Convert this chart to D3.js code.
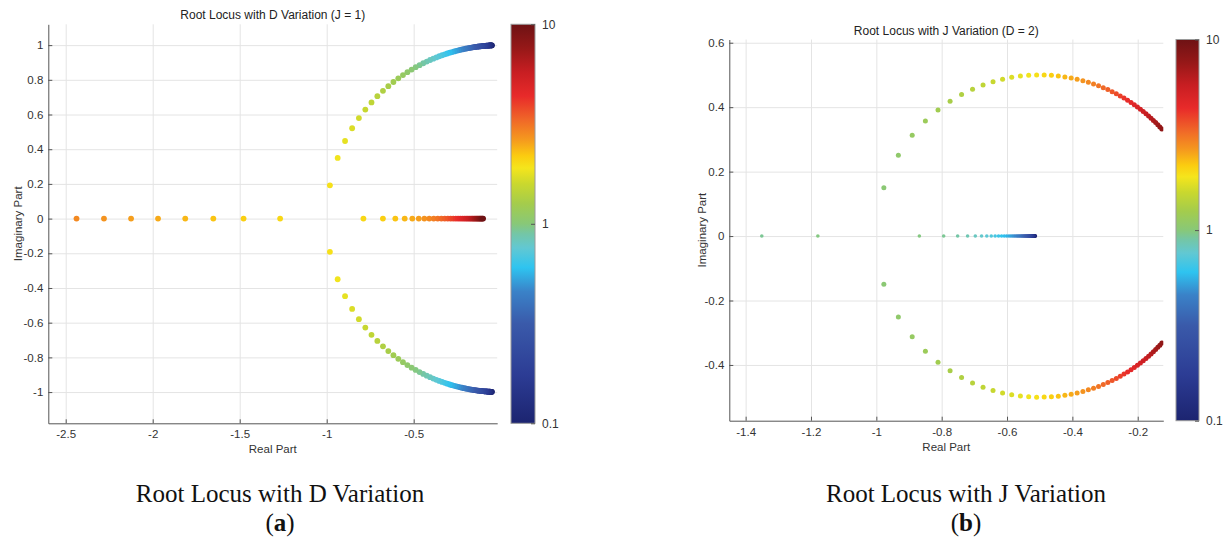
<!DOCTYPE html>
<html>
<head>
<meta charset="utf-8">
<script src="https://cdn.jsdelivr.net/npm/d3@7"></script>
<style>
  body { margin: 0; background: #fff; }
  svg { display: block; font-family: "Liberation Sans", Arial, sans-serif; }
</style>
</head>
<body>
<svg id="fig" width="1225" height="547"></svg>
<script>
// sweep parameter (D in panel a, J in panel b)
var paramSteps = [0.1, 0.1048, 0.1097, 0.1150, 0.1205, 0.1262, 0.1322, 0.1385, 0.1451, 0.1520,
    0.1592, 0.1668, 0.1748, 0.1831, 0.1918, 0.2009, 0.2105, 0.2205, 0.2310, 0.2420,
    0.2535, 0.2656, 0.2783, 0.2915, 0.3054, 0.3199, 0.3352, 0.3511, 0.3678, 0.3854,
    0.4037, 0.4229, 0.4431, 0.4642, 0.4863, 0.5094, 0.5337, 0.5591, 0.5857, 0.6136,
    0.6428, 0.6734, 0.7055, 0.7391, 0.7743, 0.8111, 0.8498, 0.8902, 0.9326, 0.9770,
    1.0235, 1.0723, 1.1233, 1.1768, 1.2328, 1.2915, 1.3530, 1.4175, 1.4850, 1.5557,
    1.6298, 1.7074, 1.7887, 1.8738, 1.9630, 2.0565, 2.1544, 2.2570, 2.3645, 2.4771,
    2.5950, 2.7186, 2.8480, 2.9836, 3.1257, 3.2745, 3.4305, 3.5938, 3.7649, 3.9442,
    4.1320, 4.3288, 4.5349, 4.7508, 4.9770, 5.2140, 5.4623, 5.7224, 5.9948, 6.2803,
    6.5793, 6.8926, 7.2208, 7.5646, 7.9248, 8.3022, 8.6975, 9.1116, 9.5455, 10];

// panel a : D variation (J = 1)
// complex pair, steps 0..64 (conjugate drawn below the axis)
var dPairRe = [-0.050, -0.0524, -0.0549, -0.0575, -0.0603, -0.0631, -0.0661, -0.0693, -0.0726, -0.0760,
    -0.0796, -0.0834, -0.0874, -0.0916, -0.0959, -0.1005, -0.1053, -0.1103, -0.1155, -0.1210,
    -0.1268, -0.1328, -0.1392, -0.1458, -0.1527, -0.1600, -0.1676, -0.1756, -0.1839, -0.1927,
    -0.2019, -0.2115, -0.2216, -0.2321, -0.2432, -0.2547, -0.2669, -0.2796, -0.2929, -0.3068,
    -0.3214, -0.3367, -0.3528, -0.3696, -0.3872, -0.4056, -0.4249, -0.4451, -0.4663, -0.4885,
    -0.5118, -0.5362, -0.5617, -0.5884, -0.6164, -0.6458, -0.6765, -0.7088, -0.7425, -0.7779,
    -0.8149, -0.8537, -0.8944, -0.9369, -0.9815];
var dPairIm = [0.9987, 0.9986, 0.9985, 0.9983, 0.9982, 0.9980, 0.9978, 0.9976, 0.9974, 0.9971,
    0.9968, 0.9965, 0.9962, 0.9958, 0.9954, 0.9949, 0.9944, 0.9939, 0.9933, 0.9927,
    0.9919, 0.9911, 0.9903, 0.9893, 0.9883, 0.9871, 0.9859, 0.9845, 0.9829, 0.9813,
    0.9794, 0.9774, 0.9751, 0.9727, 0.9700, 0.9670, 0.9637, 0.9601, 0.9562, 0.9518,
    0.9469, 0.9416, 0.9357, 0.9292, 0.9220, 0.9141, 0.9052, 0.8955, 0.8846, 0.8726,
    0.8591, 0.8441, 0.8274, 0.8086, 0.7874, 0.7635, 0.7364, 0.7054, 0.6698, 0.6284,
    0.5796, 0.5208, 0.4473, 0.3496, 0.1915];
// real roots, steps 65..99 (near origin) and 65..72 (far root, still inside the axes)
var dNearRe = [-0.7889, -0.6768, -0.6056, -0.5516, -0.5078, -0.4708, -0.4386, -0.4102, -0.3848, -0.3618,
    -0.3409, -0.3217, -0.3040, -0.2876, -0.2724, -0.2582, -0.2449, -0.2325, -0.2208, -0.2098,
    -0.1994, -0.1897, -0.1805, -0.1718, -0.1635, -0.1557, -0.1483, -0.1413, -0.1346, -0.1283,
    -0.1223, -0.1165, -0.1111, -0.1059, -0.1010];
var dFarRe = [-1.2676, -1.4777, -1.6515, -1.8129, -1.9693, -2.1243, -2.2800, -2.4378];

// panel b : J variation (D = 2)
// real roots, steps 0..49 and far root for steps 48..49
var jNearRe = [-0.5132, -0.5138, -0.5145, -0.5153, -0.5161, -0.5168, -0.5177, -0.5186, -0.5196, -0.5206,
    -0.5216, -0.5228, -0.5240, -0.5253, -0.5266, -0.5280, -0.5295, -0.5311, -0.5328, -0.5346,
    -0.5365, -0.5385, -0.5407, -0.5430, -0.5454, -0.5480, -0.5509, -0.5539, -0.5571, -0.5605,
    -0.5643, -0.5683, -0.5726, -0.5774, -0.5825, -0.5881, -0.5942, -0.6010, -0.6084, -0.6167,
    -0.6259, -0.6364, -0.6482, -0.6619, -0.6779, -0.6971, -0.7207, -0.7511, -0.7939, -0.8683];
var jFarRe = [-1.3506, -1.1790];
// complex pair, steps 50..94
var jPairRe = [-0.9770, -0.9326, -0.8902, -0.8498, -0.8112, -0.7743, -0.7391, -0.7055, -0.6734, -0.6428,
    -0.6136, -0.5857, -0.5591, -0.5337, -0.5094, -0.4863, -0.4642, -0.4431, -0.4229, -0.4037,
    -0.3854, -0.3678, -0.3511, -0.3352, -0.3199, -0.3054, -0.2915, -0.2783, -0.2656, -0.2535,
    -0.2420, -0.2310, -0.2205, -0.2105, -0.2009, -0.1918, -0.1831, -0.1748, -0.1668, -0.1592,
    -0.1520, -0.1451, -0.1385, -0.1322, -0.1262];
var jPairIm = [0.1498, 0.2508, 0.3126, 0.3573, 0.3914, 0.4180, 0.4391, 0.4558, 0.4690, 0.4792,
    0.4869, 0.4926, 0.4965, 0.4989, 0.4999, 0.4998, 0.4987, 0.4968, 0.4940, 0.4907,
    0.4867, 0.4822, 0.4773, 0.4720, 0.4665, 0.4606, 0.4545, 0.4481, 0.4417, 0.4350,
    0.4283, 0.4215, 0.4146, 0.4077, 0.4007, 0.3937, 0.3867, 0.3798, 0.3728, 0.3659,
    0.3590, 0.3522, 0.3454, 0.3387, 0.3321];

// tick labels
var aXTicks = [-2.5, -2, -1.5, -1, -0.5];
var aYTicks = [-1, -0.8, -0.6, -0.4, -0.2, 0, 0.2, 0.4, 0.6, 0.8, 1];
var bXTicks = [-1.4, -1.2, -1, -0.8, -0.6, -0.4, -0.2];
var bYTicks = [-0.4, -0.2, 0, 0.2, 0.4, 0.6];
var cbTicks = [0.1, 1, 10];

// colour map (position on the log bar, 0 = 0.1, 1 = 10)
var cmapStops = [0, 0.12, 0.25, 0.33, 0.39, 0.44, 0.475, 0.5, 0.55, 0.6, 0.64, 0.67, 0.71, 0.76, 0.82, 0.88, 0.94, 1];
var cmapColors = ["#1c2470", "#2c3c94", "#3a5aaa", "#3a82c8", "#2ec4f0", "#62c8d2", "#74c6a6", "#88c878", "#a4cc4c",
    "#cad82e", "#f5e51c", "#fbcc10", "#f59a1e", "#f06828", "#e82a2a", "#c81e22", "#961818", "#6e1214"];

var tScale = d3.scaleLog().domain([0.1, 10]).range([0, 1]).clamp(true);
var cmap = d3.scaleLinear().domain(cmapStops).range(cmapColors).interpolate(d3.interpolateRgb);
function colorOf(v) { return cmap(tScale(v)); }

function pts(re, im, from) {
    return re.map(function (r, i) {
        return { re: r, im: im ? im[i] : 0, p: paramSteps[from + i] };
    });
}
function neg(list) {
    return list.map(function (d) { return { re: d.re, im: -d.im, p: d.p }; });
}
function fmt(d) { return String(+d.toFixed(1)); }

var svg = d3.select("#fig");
var defs = svg.append("defs");

var grad = defs.append("linearGradient").attr("id", "cbGrad")
    .attr("x1", 0).attr("y1", 1).attr("x2", 0).attr("y2", 0);
cmapStops.forEach(function (s, i) {
    grad.append("stop").attr("offset", s).attr("stop-color", cmapColors[i]);
});

var dUpper = pts(dPairRe, dPairIm, 0);
var jUpper = pts(jPairRe, jPairIm, 50);

var panels = [
    {
        id: "a", left: 48.3, right: 497.2, top: 24.3, bottom: 423.3,
        xDom: [-2.6, -0.02], yDom: [-1.18, 1.12], xTicks: aXTicks, yTicks: aYTicks,
        title: "Root Locus with D Variation (J = 1)", titleY: 19,
        xLabelY: 453, yLabelX: 22, cbX: 511, cbW: 24,
        series: [
            { data: dUpper, r: 2.9 },
            { data: neg(dUpper), r: 2.9 },
            { data: pts(dNearRe, null, 65), r: 2.9 },
            { data: pts(dFarRe, null, 65), r: 2.9 }
        ],
        caption: "Root Locus with D Variation", capX: 280, tag: "a"
    },
    {
        id: "b", left: 729.3, right: 1163.3, top: 39.5, bottom: 420.7,
        xDom: [-1.45, -0.1217], yDom: [-0.573, 0.61], xTicks: bXTicks, yTicks: bYTicks,
        title: "Root Locus with J Variation (D = 2)", titleY: 35,
        xLabelY: 451, yLabelX: 706, cbX: 1176, cbW: 23,
        series: [
            { data: pts(jNearRe, null, 0), r: 1.8 },
            { data: pts(jFarRe, null, 48), r: 1.8 },
            { data: jUpper, r: 2.5 },
            { data: neg(jUpper), r: 2.5 }
        ],
        caption: "Root Locus with J Variation", capX: 966, tag: "b"
    }
];

panels.forEach(function (p) {
    var g = svg.append("g");
    var x = d3.scaleLinear().domain(p.xDom).range([p.left, p.right]);
    var y = d3.scaleLinear().domain(p.yDom).range([p.bottom, p.top]);
    var w = p.right - p.left, h = p.bottom - p.top;

    // grid
    var gx = g.append("g").attr("transform", "translate(0," + p.bottom + ")")
        .call(d3.axisBottom(x).tickValues(p.xTicks).tickSize(-h).tickFormat(""));
    var gy = g.append("g").attr("transform", "translate(" + p.left + ",0)")
        .call(d3.axisLeft(y).tickValues(p.yTicks).tickSize(-w).tickFormat(""));
    [gx, gy].forEach(function (s) {
        s.select(".domain").remove();
        s.selectAll("line").attr("stroke", "#e4e4e4").attr("stroke-width", 1);
    });

    // dots
    defs.append("clipPath").attr("id", "clip" + p.id)
        .append("rect").attr("x", p.left).attr("y", p.top).attr("width", w).attr("height", h);
    var dots = g.append("g").attr("clip-path", "url(#clip" + p.id + ")");
    p.series.forEach(function (s) {
        dots.append("g").selectAll("circle").data(s.data).join("circle")
            .attr("cx", function (d) { return x(d.re); })
            .attr("cy", function (d) { return y(d.im); })
            .attr("r", s.r)
            .attr("fill", function (d) { return colorOf(d.p); });
    });

    // axes
    var ax = g.append("g").attr("transform", "translate(0," + p.bottom + ")")
        .call(d3.axisBottom(x).tickValues(p.xTicks).tickSize(-4).tickSizeOuter(0).tickPadding(7).tickFormat(fmt));
    var ay = g.append("g").attr("transform", "translate(" + p.left + ",0)")
        .call(d3.axisLeft(y).tickValues(p.yTicks).tickSize(-4).tickSizeOuter(0).tickPadding(5).tickFormat(fmt));
    [ax, ay].forEach(function (s) {
        s.select(".domain").attr("stroke", "#555");
        s.selectAll(".tick line").attr("stroke", "#555");
        s.selectAll("text").attr("fill", "#333").style("font-size", "11.5px")
            .style("font-family", "'Liberation Sans', Arial, sans-serif");
    });

    g.append("text").attr("x", (p.left + p.right) / 2).attr("y", p.titleY)
        .attr("text-anchor", "middle").attr("fill", "#222").style("font-size", "12px").text(p.title);
    g.append("text").attr("x", (p.left + p.right) / 2).attr("y", p.xLabelY)
        .attr("text-anchor", "middle").attr("fill", "#333").style("font-size", "11.5px").text("Real Part");
    g.append("text").attr("transform", "translate(" + p.yLabelX + "," + ((p.top + p.bottom) / 2) + ") rotate(-90)")
        .attr("text-anchor", "middle").attr("fill", "#333").style("font-size", "11.5px").text("Imaginary Part");

    // colorbar
    g.append("rect").attr("x", p.cbX).attr("y", p.top).attr("width", p.cbW).attr("height", h)
        .attr("fill", "url(#cbGrad)").attr("stroke", "#9a9a9a").attr("stroke-width", 1);
    var cbScale = d3.scaleLog().domain([0.1, 10]).range([p.bottom, p.top]);
    var cb = g.append("g").attr("transform", "translate(" + (p.cbX + p.cbW) + ",0)")
        .call(d3.axisRight(cbScale).tickValues(cbTicks).tickSize(-4).tickPadding(7)
            .tickFormat(function (d) { return String(d); }));
    cb.select(".domain").remove();
    cb.selectAll(".tick line").attr("stroke", "#555");
    cb.selectAll("text").attr("fill", "#333").style("font-size", "12px")
        .style("font-family", "'Liberation Sans', Arial, sans-serif");

    // caption
    svg.append("text").attr("x", p.capX).attr("y", 502).attr("text-anchor", "middle")
        .style("font-family", "'Liberation Serif', 'Times New Roman', serif").style("font-size", "25px")
        .attr("fill", "#111").text(p.caption);
    var cap = svg.append("text").attr("x", p.capX).attr("y", 531).attr("text-anchor", "middle")
        .style("font-family", "'Liberation Serif', 'Times New Roman', serif").style("font-size", "25px")
        .attr("fill", "#111");
    cap.append("tspan").text("(");
    cap.append("tspan").attr("font-weight", "bold").text(p.tag);
    cap.append("tspan").text(")");
});
</script>
</body>
</html>
